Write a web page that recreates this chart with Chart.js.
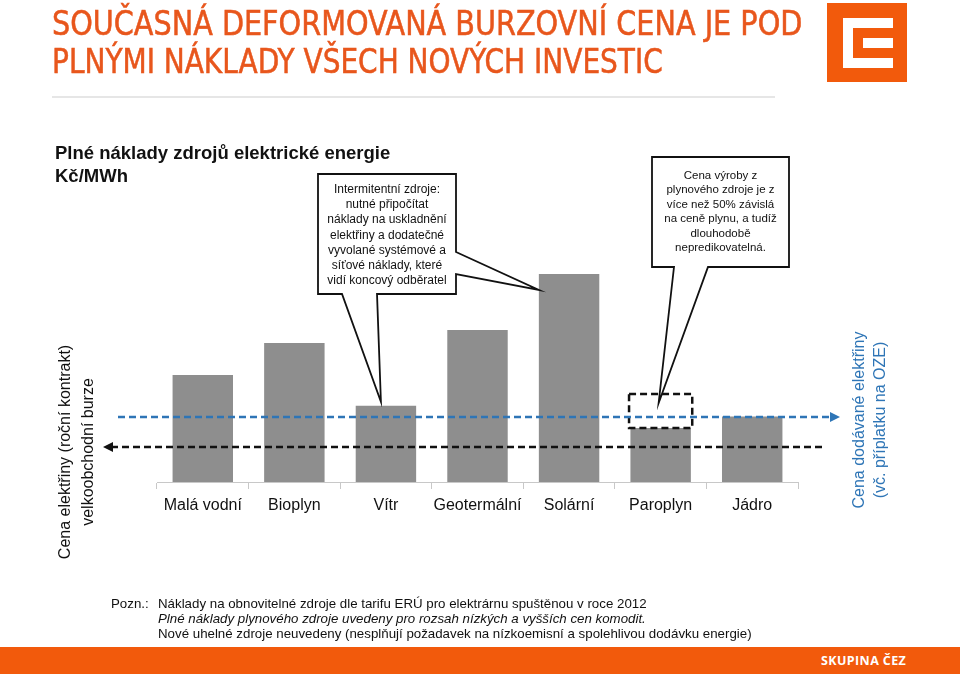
<!DOCTYPE html>
<html>
<head>
<meta charset="utf-8">
<script src="https://cdn.jsdelivr.net/npm/chart.js@4/dist/chart.umd.min.js"></script>
<style>
  html, body { margin: 0; padding: 0; background: #fff; }
  #slide { position: relative; width: 960px; height: 674px; overflow: hidden; font-family: "Liberation Sans", Arial, sans-serif; }
  #chartBox { position: absolute; left: 0; top: 0; width: 960px; height: 674px; }
  .txt { position: absolute; z-index: 2; white-space: nowrap; }
  .title { left: 52px; color: #e8561c; font-family: "Liberation Sans Narrow", "DejaVu Sans Condensed", Arial, sans-serif; font-size: 33px; line-height: 38px; transform-origin: 0 50%; -webkit-text-stroke: 0.5px #e8561c; }
  .callout { text-align: center; font-size: 12px; color: #111; }
  .vlabel { text-align: center; font-size: 16px; transform: rotate(-90deg); }
</style>
</head>
<body>
<div id="slide">
  <div id="chartBox"><canvas id="chart"></canvas></div>

  <div class="txt title" id="t1" style="top:5px;">SOUČASNÁ DEFORMOVANÁ BURZOVNÍ CENA JE POD</div>
  <div class="txt title" id="t2" style="top:43px;">PLNÝMI NÁKLADY VŠECH NOVÝCH INVESTIC</div>
  <div style="position:absolute;left:52px;top:96px;width:723px;height:2px;background:#e6e6e6;"></div>

  <svg style="position:absolute;left:827px;top:3px;" width="80" height="79" viewBox="0 0 80 79">
    <rect width="80" height="79" fill="#f25a0c"/>
    <path d="M16 15 H66 V25 H26 V55 H66 V65 H16 Z" fill="#fff"/>
    <rect x="36" y="35" width="30" height="10" fill="#fff"/>
  </svg>

  <div class="txt" style="left:55px;top:141px;font-size:18.5px;font-weight:bold;line-height:23px;color:#111;">Plné náklady zdrojů elektrické energie<br>Kč/MWh</div>

  <div class="txt callout" style="left:318px;top:182px;width:138px;line-height:15.2px;">Intermitentní zdroje:<br>nutné připočítat<br>náklady na uskladnění<br>elektřiny a dodatečné<br>vyvolané systémové a<br>síťové náklady, které<br>vidí koncový odběratel</div>
  <div class="txt callout" style="left:652px;top:168px;width:137px;line-height:14.4px;font-size:11.5px;">Cena výroby z<br>plynového zdroje je z<br>více než 50% závislá<br>na ceně plynu, a tudíž<br>dlouhodobě<br>nepredikovatelná.</div>

  <div class="txt vlabel" style="left:-54.5px;top:429px;width:260px;line-height:23px;color:#111;">Cena elektřiny (roční kontrakt)<br>velkoobchodní burze</div>
  <div class="txt vlabel" style="left:748.5px;top:399px;width:240px;line-height:21px;color:#2e75b6;">Cena dodávané elektřiny<br>(vč. příplatku na OZE)</div>

  <div class="txt" style="left:111px;top:596px;font-size:13.3px;line-height:15px;color:#111;">Pozn.:</div>
  <div class="txt" style="left:158px;top:596px;font-size:13.3px;line-height:15px;color:#111;">Náklady na obnovitelné zdroje dle tarifu ERÚ pro elektrárnu spuštěnou v roce 2012<br><i>Plné náklady plynového zdroje uvedeny pro rozsah nízkých a vyšších cen komodit.</i><br>Nové uhelné zdroje neuvedeny (nesplňují požadavek na nízkoemisní a spolehlivou dodávku energie)</div>

  <div style="position:absolute;left:0;top:647px;width:960px;height:27px;background:#f25a0c;"></div>
  <div class="txt" style="left:821px;top:652px;font-family:'Open Sans',sans-serif;font-weight:bold;font-size:12.5px;line-height:18px;color:#fff;letter-spacing:0.4px;">SKUPINA ČEZ</div>
</div>

<script>
// categories and values (Kč/MWh)
const categories = ["Malá vodní", "Bioplyn", "Vítr", "Geotermální", "Solární", "Paroplyn", "Jádro"];
const fullCosts = [3150, 4090, 2240, 4470, 6120, 1590, 1930];
const gasRange = [null, null, null, null, null, [1590, 2590], null];
const retailPrice = 1910;   // cena dodávané elektřiny
const exchangePrice = 1030; // cena na burze

// fit title lines to their width in the reference
[["t1", 750], ["t2", 611]].forEach(([id, w]) => {
  const el = document.getElementById(id);
  el.style.transform = "scaleX(" + (w / el.offsetWidth) + ")";
});

function arrow(ctx, x, y, dir, color) {
  ctx.save();
  ctx.setLineDash([]);
  ctx.fillStyle = color;
  ctx.beginPath();
  ctx.moveTo(x, y);
  ctx.lineTo(x - dir * 10, y - 5);
  ctx.lineTo(x - dir * 10, y + 5);
  ctx.closePath();
  ctx.fill();
  ctx.restore();
}

const overlay = {
  id: "overlay",
  afterDatasetsDraw(chart) {
    const ctx = chart.ctx;
    const yScale = chart.scales.y;
    const bars = chart.getDatasetMeta(0).data;
    const rangeBars = chart.getDatasetMeta(1).data;
    const gi = gasRange.findIndex((v) => v !== null);
    const r = rangeBars[gi];

    ctx.save();
    ctx.lineWidth = 2.5;

    // dashed range box for Paroplyn
    const top = Math.min(r.y, r.base);
    const bottom = Math.max(r.y, r.base);
    ctx.setLineDash([7, 4]);
    ctx.strokeStyle = "#111";
    ctx.strokeRect(r.x - r.width / 2, top, r.width, bottom - top);

    // price lines
    const yb = yScale.getPixelForValue(retailPrice);
    ctx.strokeStyle = "#2e75b6";
    ctx.beginPath();
    ctx.moveTo(118, yb);
    ctx.lineTo(832, yb);
    ctx.stroke();
    arrow(ctx, 840, yb, 1, "#2e75b6");

    const yk = yScale.getPixelForValue(exchangePrice);
    ctx.strokeStyle = "#111";
    ctx.beginPath();
    ctx.moveTo(111, yk);
    ctx.lineTo(825, yk);
    ctx.stroke();
    arrow(ctx, 103, yk, -1, "#111");

    // callouts
    ctx.setLineDash([]);
    ctx.lineWidth = 1.8;
    ctx.strokeStyle = "#111";
    ctx.fillStyle = "#fff";

    const vitr = bars[2];
    const solar = bars[4];
    ctx.beginPath();
    ctx.moveTo(318, 174);
    ctx.lineTo(456, 174);
    ctx.lineTo(456, 252);
    ctx.lineTo(solar.x - solar.width / 2, solar.y + 16);
    ctx.lineTo(456, 274);
    ctx.lineTo(456, 294);
    ctx.lineTo(377, 294);
    ctx.lineTo(vitr.x - 5, vitr.y - 4);
    ctx.lineTo(342, 294);
    ctx.lineTo(318, 294);
    ctx.closePath();
    ctx.fill();
    ctx.stroke();

    ctx.beginPath();
    ctx.moveTo(652, 157);
    ctx.lineTo(789, 157);
    ctx.lineTo(789, 267);
    ctx.lineTo(708, 267);
    ctx.lineTo(r.x - 2, top + 9);
    ctx.lineTo(674, 267);
    ctx.lineTo(652, 267);
    ctx.closePath();
    ctx.fill();
    ctx.stroke();

    ctx.restore();
  },
};

new Chart(document.getElementById("chart"), {
  type: "bar",
  data: {
    labels: categories,
    datasets: [
      {
        label: "Plné náklady",
        data: fullCosts,
        backgroundColor: "#8e8e8e",
        categoryPercentage: 1,
        barPercentage: 0.66,
        grouped: false,
        order: 2,
      },
      {
        label: "Rozsah paroplyn",
        data: gasRange,
        backgroundColor: "rgba(0,0,0,0)",
        borderWidth: 0,
        categoryPercentage: 1,
        barPercentage: 0.69,
        grouped: false,
        order: 1,
      },
    ],
  },
  options: {
    responsive: true,
    maintainAspectRatio: false,
    animation: false,
    layout: { padding: { left: 157, right: 162, top: 142, bottom: 142 } },
    scales: {
      x: {
        afterFit(scale) { scale.height = 50; },
        grid: { display: true, drawOnChartArea: false, offset: true, tickLength: 7, color: "#c8c8c8" },
        border: { color: "#c8c8c8", width: 1 },
        ticks: {
          color: "#111",
          padding: 7,
          maxRotation: 0,
          minRotation: 0,
          autoSkip: false,
          font: { family: "'Liberation Sans', Arial, sans-serif", size: 16 },
        },
      },
      y: { display: false, min: 0, max: 10000 },
    },
    plugins: {
      legend: { display: false },
      tooltip: { enabled: false },
    },
  },
  plugins: [overlay],
});
</script>
</body>
</html>
